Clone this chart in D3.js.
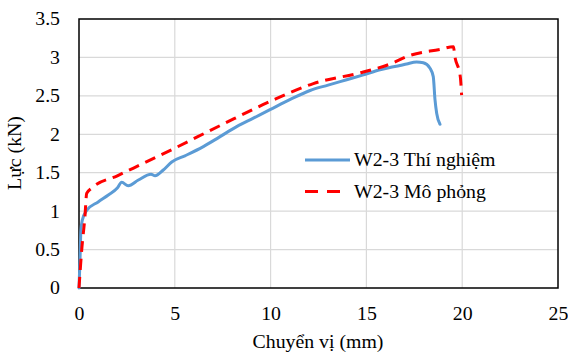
<!DOCTYPE html>
<html><head><meta charset="utf-8">
<script src="https://cdn.jsdelivr.net/npm/d3@7"></script>
<style>body{margin:0;background:#fff}svg{display:block}
text{font-family:"Liberation Serif","Times New Roman","DejaVu Serif",serif !important;}</style>
</head><body>
<svg id="c" width="568" height="354"></svg>
<script>
// Data
const testX = [0, 0.05, 0.1, 0.17, 0.4, 1.0, 1.53, 2.0, 2.23, 2.57, 3.1, 3.76, 3.97, 4.4, 4.84, 5.53, 6.49, 7.3, 8.23, 9.1, 9.97, 11.0, 12.06, 13.0, 13.97, 14.8, 15.71, 16.23, 16.75, 17.1, 17.62, 17.97, 18.32, 18.49, 18.58, 18.67, 18.84];
const testY = [0, 0.35, 0.75, 0.88, 1.01, 1.12, 1.21, 1.30, 1.375, 1.33, 1.405, 1.48, 1.46, 1.535, 1.64, 1.72, 1.84, 1.96, 2.10, 2.21, 2.32, 2.45, 2.57, 2.64, 2.71, 2.77, 2.84, 2.87, 2.895, 2.915, 2.94, 2.93, 2.86, 2.75, 2.45, 2.27, 2.13];
const simX = [0, 0.14, 0.31, 0.4, 0.66, 2.0, 4.84, 7.5, 10.0, 12.23, 14.84, 16.3, 17.2, 18.84, 19.54, 19.62, 19.9, 19.97];
const simY = [0, 0.49, 0.93, 1.23, 1.30, 1.46, 1.80, 2.13, 2.43, 2.66, 2.81, 2.92, 3.02, 3.105, 3.14, 3.01, 2.75, 2.51];
const xTicks = [0, 5, 10, 15, 20, 25];
const yTicks = [0, 0.5, 1, 1.5, 2, 2.5, 3, 3.5];
const seriesNames = ["W2-3 Thí nghiệm", "W2-3 Mô phỏng"];
const xTitle = "Chuyển vị (mm)";
const yTitle = "Lực (kN)";

const svg = d3.select("#c");
const L = 79, R = 558, T = 19, B = 288;
const SX = 1.1;
const x = d3.scaleLinear().domain([0, 25]).range([L, R]);
const y = d3.scaleLinear().domain([0, 3.5]).range([B, T]);

// grid
svg.append("g").selectAll("line").data(xTicks.slice(1, -1)).join("line")
  .attr("x1", d => x(d)).attr("x2", d => x(d)).attr("y1", T).attr("y2", B)
  .attr("stroke", "#d9d9d9").attr("stroke-width", 1.2);
svg.append("g").selectAll("line").data(yTicks.slice(1, -1)).join("line")
  .attr("y1", d => y(d)).attr("y2", d => y(d)).attr("x1", L).attr("x2", R)
  .attr("stroke", "#d9d9d9").attr("stroke-width", 1.2);

// axes
const xa = svg.append("g").attr("transform", `translate(0,${B})`)
  .call(d3.axisBottom(x).tickValues(xTicks).tickSize(0).tickFormat(d3.format("")));
xa.select(".domain").remove();
xa.selectAll("text").attr("y", 0).attr("dy", 0)
  .attr("transform", `translate(0,32) scale(${SX},1)`)
  .attr("font-size", 18).attr("fill", "#000");

const ya = svg.append("g").attr("transform", `translate(${L},0)`)
  .call(d3.axisLeft(y).tickValues(yTicks).tickSize(0).tickFormat(d3.format("")));
ya.select(".domain").remove();
ya.selectAll("text").attr("x", 0).attr("dy", "0.33em")
  .attr("transform", `translate(-19,0) scale(${SX},1)`)
  .attr("font-size", 18).attr("fill", "#000");

// border
svg.append("rect").attr("x", L).attr("y", T).attr("width", R - L).attr("height", B - T)
  .attr("fill", "none").attr("stroke", "#000").attr("stroke-width", 1.5);

// lines
const lineC = d3.line().x(d => x(d[0])).y(d => y(d[1])).curve(d3.curveMonotoneX);
svg.append("path").datum(testX.map((v, i) => [v, testY[i]]))
  .attr("d", lineC).attr("fill", "none").attr("stroke", "#5b9bd5")
  .attr("stroke-width", 3).attr("stroke-linejoin", "round").attr("stroke-linecap", "round");
svg.append("path").datum(simX.map((v, i) => [v, simY[i]]))
  .attr("d", lineC).attr("fill", "none").attr("stroke", "#ff0000")
  .attr("stroke-width", 3).attr("stroke-dasharray", "11,7");

// legend
const lg = svg.append("g");
lg.append("line").attr("x1", 305).attr("x2", 350).attr("y1", 160).attr("y2", 160)
  .attr("stroke", "#5b9bd5").attr("stroke-width", 3);
lg.append("line").attr("x1", 305).attr("x2", 345).attr("y1", 191.5).attr("y2", 191.5)
  .attr("stroke", "#ff0000").attr("stroke-width", 3).attr("stroke-dasharray", "13,9");
lg.selectAll("text").data(seriesNames).join("text")
  .attr("transform", (d, i) => `translate(354,${166 + i * 32}) scale(${SX},1)`)
  .attr("font-size", 18).attr("fill", "#000").text(d => d);

// titles
svg.append("text").attr("transform", `translate(318,348) scale(${SX},1)`)
  .attr("text-anchor", "middle").attr("font-size", 18).text(xTitle);
svg.append("text").attr("transform", `translate(21,153) rotate(-90) scale(${SX},1)`)
  .attr("text-anchor", "middle").attr("font-size", 18).text(yTitle);
</script>
</body></html>
